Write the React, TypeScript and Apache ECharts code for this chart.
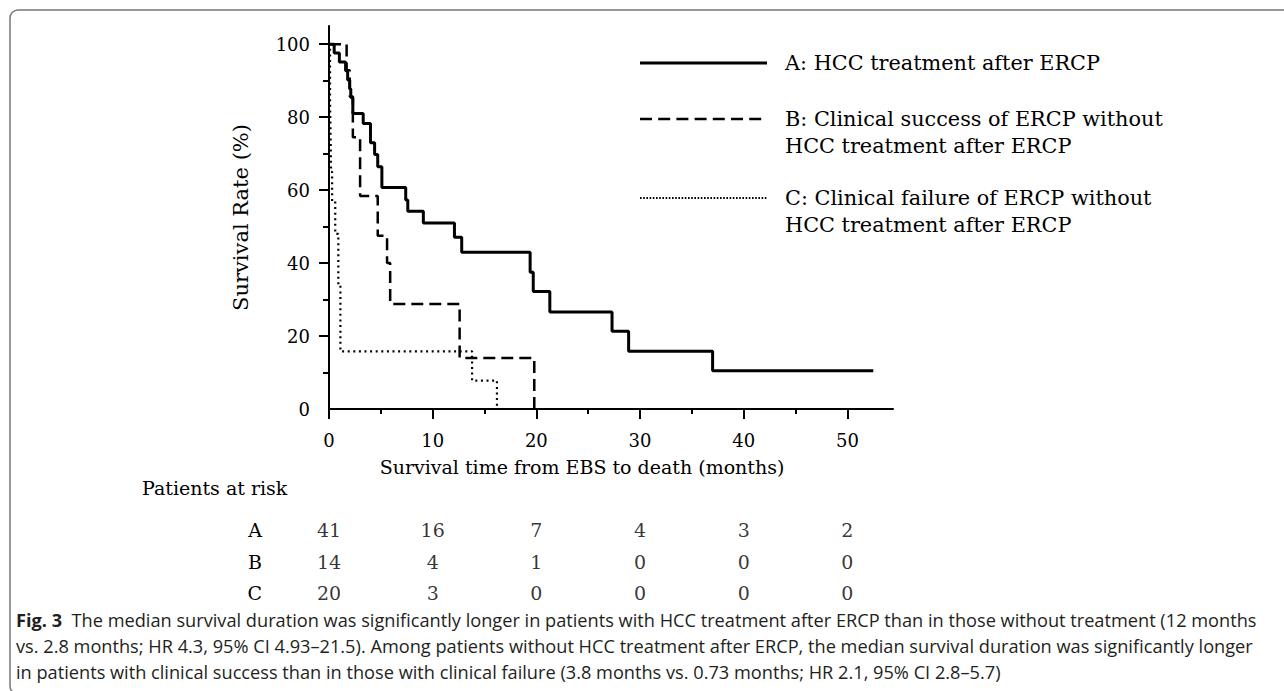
import React, { useEffect, useRef } from 'react';
import * as echarts from 'echarts';

// Axis ticks
const xTickValues = [0, 10, 20, 30, 40, 50];
const xMinorTicks = [5, 15, 25, 35, 45];
const yTickValues = [0, 20, 40, 60, 80, 100];
const yMajorTicks = [20, 40, 60, 80, 100];
const yMinorTicks = [10, 30, 50, 70, 90];

// Kaplan-Meier curves (time in months, survival %)
const timeA = [0, 0.5, 1.0, 1.6, 1.8, 2.0, 2.1, 2.3, 3.3, 4.0, 4.4, 4.7, 5.1, 7.4, 7.6, 9.1, 12.1, 12.8, 19.4, 19.7, 21.3, 27.3, 28.9, 37.0, 52.5];
const survA = [100, 97.6, 95.1, 92.7, 90.2, 87.8, 85.4, 81.0, 78.3, 73.0, 69.8, 66.4, 60.7, 57.3, 54.2, 51.0, 47.1, 43.0, 37.5, 32.2, 26.6, 21.3, 15.8, 10.5, 10.5];
const timeB = [0, 1.7, 2.0, 2.3, 3.0, 4.7, 5.6, 5.9, 12.6, 19.8];
const survB = [100, 92.9, 85.7, 74.5, 58.4, 47.5, 40.0, 28.8, 14.0, 0];
const timeC = [0, 0.1, 0.15, 0.2, 0.3, 0.6, 0.9, 1.1, 13.8, 16.2];
const survC = [100, 85, 75, 65, 57, 48, 34, 15.8, 7.8, 0];

// Legend labels
const legendA = ['A: HCC treatment after ERCP'];
const legendB = ['B: Clinical success of ERCP without', 'HCC treatment after ERCP'];
const legendC = ['C: Clinical failure of ERCP without', 'HCC treatment after ERCP'];

// Patients at risk
const riskGroups = ['A', 'B', 'C'];
const riskTimes = [0, 10, 20, 30, 40, 50];
const riskA = [41, 16, 7, 4, 3, 2];
const riskB = [14, 4, 1, 0, 0, 0];
const riskC = [20, 3, 0, 0, 0, 0];

const captionLines = [
  '  The median survival duration was significantly longer in patients with HCC treatment after ERCP than in those without treatment (12 months',
  'vs. 2.8 months; HR 4.3, 95% CI 4.93–21.5). Among patients without HCC treatment after ERCP, the median survival duration was significantly longer',
  'in patients with clinical success than in those with clinical failure (3.8 months vs. 0.73 months; HR 2.1, 95% CI 2.8–5.7)',
];

const SERIF = '"DejaVu Serif", serif';
const SANS = '"Open Sans", "Noto Sans", sans-serif';
const XMAX = 54.4;
const YMAX = 105;
const CAP = 18.2;

export default function App() {
  const ref = useRef<HTMLDivElement>(null);
  useEffect(() => {
    if (!ref.current) return;
    const chart = echarts.init(ref.current, undefined, { renderer: 'svg' });
    const toPts = (t: number[], s: number[]) => t.map((v, i) => [v, s[i]]);
    const riskData: any[] = [];
    const riskVals = [riskA, riskB, riskC];
    riskGroups.forEach((g, gi) => {
      riskTimes.forEach((t, i) => riskData.push([t, g, riskVals[gi][i]]));
    });

    const legendText = (lines: string[], x: number, y0: number) =>
      lines.map((txt, i) => ({
        type: 'text',
        x,
        y: y0 + i * 27,
        style: { text: txt, fontFamily: SERIF, fontSize: 20.8, fill: '#000', align: 'left', verticalAlign: 'middle' },
      }));

    const option: any = {
      animation: false,
      backgroundColor: '#fff',
      textStyle: { fontFamily: SERIF, color: '#000' },
      grid: [
        { left: 329, top: 26, width: 564, height: 383 },
        { left: 329, top: 514, width: 564, height: 95 },
      ],
      xAxis: [
        {
          gridIndex: 0, type: 'value', position: 'bottom', min: 0, max: XMAX,
          axisLine: { show: true, onZero: false, lineStyle: { color: '#000', width: 2 } },
          axisTick: { show: true, customValues: xTickValues, length: 10, lineStyle: { color: '#000', width: 2 } },
          axisLabel: { customValues: xTickValues, margin: 22, fontSize: 18, color: '#000', fontFamily: SERIF },
          splitLine: { show: false },
        },
        {
          gridIndex: 0, type: 'value', position: 'bottom', min: 0, max: XMAX,
          axisLine: { show: false, onZero: false },
          axisTick: { show: true, customValues: xMinorTicks, length: 5, lineStyle: { color: '#000', width: 2 } },
          axisLabel: { show: false },
          splitLine: { show: false },
        },
        { gridIndex: 1, type: 'value', min: 0, max: XMAX, show: false },
      ],
      yAxis: [
        {
          gridIndex: 0, type: 'value', position: 'left', min: 0, max: YMAX,
          name: 'Survival Rate (%)', nameLocation: 'middle', nameGap: 78,
          nameTextStyle: { fontSize: 21, color: '#000', fontFamily: SERIF },
          axisLine: { show: true, onZero: false, lineStyle: { color: '#000', width: 2 } },
          axisTick: { show: true, customValues: yMajorTicks, length: 10, lineStyle: { color: '#000', width: 2 } },
          axisLabel: { customValues: yTickValues, margin: 19, fontSize: 18, color: '#000', fontFamily: SERIF },
          splitLine: { show: false },
        },
        {
          gridIndex: 0, type: 'value', position: 'left', min: 0, max: YMAX,
          axisLine: { show: false, onZero: false },
          axisTick: { show: true, customValues: yMinorTicks, length: 6, lineStyle: { color: '#000', width: 2 } },
          axisLabel: { show: false },
          splitLine: { show: false },
        },
        {
          gridIndex: 1, type: 'category', data: riskGroups, inverse: true,
          axisLine: { show: false }, axisTick: { show: false },
          axisLabel: { fontSize: 19, margin: 67, color: '#000', fontFamily: SERIF },
          splitLine: { show: false },
        },
      ],
      series: [
        {
          name: 'A', type: 'line', step: 'end', xAxisIndex: 0, yAxisIndex: 0,
          data: toPts(timeA, survA), showSymbol: false, symbol: 'none',
          lineStyle: { color: '#000', width: 3 },
        },
        {
          name: 'B', type: 'line', step: 'end', xAxisIndex: 0, yAxisIndex: 0,
          data: toPts(timeB, survB), showSymbol: false, symbol: 'none',
          lineStyle: { color: '#000', width: 2.5, type: [12, 6] },
        },
        {
          name: 'C', type: 'line', step: 'end', xAxisIndex: 0, yAxisIndex: 0,
          data: toPts(timeC, survC), showSymbol: false, symbol: 'none',
          lineStyle: { color: '#000', width: 2.2, type: [2, 3.6] },
        },
        {
          name: 'Patients at risk', type: 'scatter', xAxisIndex: 2, yAxisIndex: 2,
          data: riskData, symbolSize: 1, silent: true,
          itemStyle: { color: 'rgba(0,0,0,0)' },
          label: {
            show: true, position: 'inside', fontSize: 19, color: '#000', fontFamily: SERIF,
            formatter: (p: any) => String(p.value[2]),
          },
        },
      ],
      graphic: [
        {
          type: 'rect', silent: true,
          shape: { x: 10, y: 10, width: 1400, height: 684, r: 8 },
          style: { fill: 'none', stroke: '#777', lineWidth: 1.5 },
        },
        { type: 'line', shape: { x1: 640, y1: 63, x2: 767, y2: 63 }, style: { stroke: '#000', lineWidth: 3 } },
        { type: 'line', shape: { x1: 640, y1: 119, x2: 767, y2: 119 }, style: { stroke: '#000', lineWidth: 2.5, lineDash: [12, 6.2] } },
        { type: 'line', shape: { x1: 640, y1: 198, x2: 767, y2: 198 }, style: { stroke: '#000', lineWidth: 2, lineDash: [1.6, 1.6] } },
        ...legendText(legendA, 785, 63),
        ...legendText(legendB, 785, 119),
        ...legendText(legendC, 785, 198),
        {
          type: 'text', x: 582, y: 467,
          style: { text: 'Survival time from EBS to death (months)', fontFamily: SERIF, fontSize: 19, fill: '#000', align: 'center', verticalAlign: 'middle' },
        },
        {
          type: 'text', x: 142, y: 488,
          style: { text: 'Patients at risk', fontFamily: SERIF, fontSize: 19, fill: '#000', align: 'left', verticalAlign: 'middle' },
        },
        {
          type: 'text', x: 16, y: 620,
          style: {
            text: '{b|Fig. 3}' + captionLines[0], fontFamily: SANS, fontSize: CAP, fill: '#231f20', align: 'left', verticalAlign: 'middle',
            rich: { b: { fontFamily: SANS, fontSize: CAP, fontWeight: 'bold', fill: '#231f20' } },
          },
        },
        {
          type: 'text', x: 16, y: 646,
          style: { text: captionLines[1], fontFamily: SANS, fontSize: CAP, fill: '#231f20', align: 'left', verticalAlign: 'middle' },
        },
        {
          type: 'text', x: 16, y: 672,
          style: { text: captionLines[2], fontFamily: SANS, fontSize: CAP, fill: '#231f20', align: 'left', verticalAlign: 'middle' },
        },
      ],
    };
    chart.setOption(option);
    return () => chart.dispose();
  }, []);
  return <div ref={ref} style={{ position: 'fixed', left: 0, top: 0, width: 1284, height: 691 }} />;
}
